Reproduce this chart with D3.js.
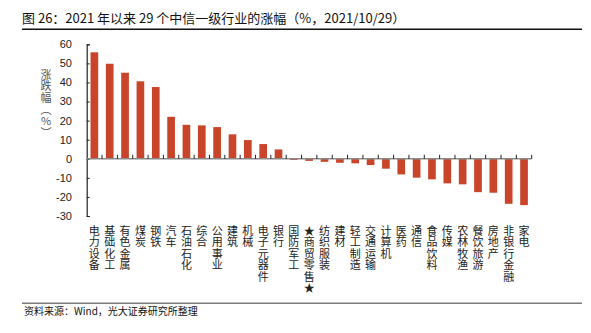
<!DOCTYPE html>
<html><head><meta charset="utf-8">
<script src="https://cdn.jsdelivr.net/npm/d3@7"></script>
<style>
html,body{margin:0;padding:0;background:#fff;}
svg{display:block;}
</style></head>
<body>
<script>
const categories = ["电力设备","基础化工","有色金属","煤炭","钢铁","汽车","石油石化","综合","公用事业","建筑","机械","电子元器件","银行","国防军工","★商贸零售★","纺织服装","建材","轻工制造","交通运输","计算机","医药","通信","食品饮料","传媒","农林牧渔","餐饮旅游","房地产","非银行金融","家电"];
const values = [55.8,49.8,45.1,40.6,37.6,22.0,17.8,17.5,16.6,12.8,9.8,7.7,4.9,-0.6,-1.1,-1.6,-2.1,-2.4,-3.3,-5.2,-8.2,-9.9,-10.8,-12.9,-13.4,-17.5,-17.8,-23.6,-24.3];
const yTicks = [60,50,40,30,20,10,0,-10,-20,-30];
const title = "图 26：2021 年以来 29 个中信一级行业的涨幅（%，2021/10/29）";
const yLabel = "涨跌幅（%）";
const source = "资料来源：Wind，光大证券研究所整理";

const W = 591, H = 333;
const cjk = "'Noto Sans CJK SC', 'Noto Sans', sans-serif";
const svg = d3.select("body").append("svg").attr("width", W).attr("height", H);

// title and frame lines
svg.append("text").attr("x", 22).attr("y", 23).attr("font-family", cjk)
  .attr("font-size", 13).attr("fill", "#111").text(title);
svg.append("line").attr("x1", 22).attr("x2", 582).attr("y1", 29.3).attr("y2", 29.3)
  .attr("stroke", "#111").attr("stroke-width", 1.4);
svg.append("line").attr("x1", 22).attr("x2", 582).attr("y1", 303.3).attr("y2", 303.3)
  .attr("stroke", "#7a7a7a").attr("stroke-width", 1.6);
svg.append("text").attr("x", 24).attr("y", 315).attr("font-family", cjk)
  .attr("font-size", 10).attr("fill", "#111").text(source);

const x0 = 86.7, x1 = 531.7;
const x = d3.scaleBand().domain(categories).range([x0, x1]).paddingInner(0.5).paddingOuter(0.25);
const y = d3.scaleLinear().domain([-30, 60]).range([216, 44.3]);

// bars
svg.append("g").selectAll("rect").data(values).join("rect")
  .attr("x", (d, i) => x(categories[i]))
  .attr("width", x.bandwidth())
  .attr("y", d => y(Math.max(0, d)))
  .attr("height", d => Math.abs(y(d) - y(0)))
  .attr("fill", "#c8442a");

// y axis
const yAxis = d3.axisRight(y).tickValues(yTicks).tickSize(3).tickFormat("");
const gy = svg.append("g").attr("transform", `translate(${x0},0)`).call(yAxis);
gy.select(".domain").attr("stroke", "#222").attr("stroke-width", 1.2);
gy.selectAll(".tick line").attr("stroke", "#222");
svg.append("g").selectAll("text").data(yTicks).join("text")
  .attr("x", 72).attr("y", d => y(d)).attr("dy", "0.36em")
  .attr("text-anchor", "end").attr("font-family", "'Liberation Sans', Arial, sans-serif")
  .attr("font-size", 11).attr("fill", "#222").text(d => d);

// zero line
svg.append("line").attr("x1", x0).attr("x2", x1).attr("y1", y(0)).attr("y2", y(0))
  .attr("stroke", "#8a8a8a").attr("stroke-width", 1.6);
// x ticks at band boundaries
const bounds = categories.map((c, i) => x0 + x.step() * (i + 1));
svg.append("g").selectAll("line").data(bounds).join("line")
  .attr("x1", d => d).attr("x2", d => d).attr("y1", y(0)).attr("y2", y(0) - 4)
  .attr("stroke", "#222").attr("stroke-width", 1);

// x labels (vertical)
svg.append("g").selectAll("text").data(categories).join("text")
  .attr("x", d => x(d) + x.bandwidth() / 2).attr("y", 225)
  .attr("font-family", cjk).attr("font-size", 11).attr("fill", "#222")
  .style("writing-mode", "vertical-rl").style("text-orientation", "upright")
  .style("letter-spacing", "0.5px")
  .text(d => d);

// y label
svg.append("text").attr("x", 46).attr("y", 69)
  .attr("font-family", cjk).attr("font-size", 11).attr("fill", "#555")
  .style("writing-mode", "vertical-rl").style("text-orientation", "upright")
  .style("letter-spacing", "0.7px")
  .text(yLabel);
</script>
</body></html>
